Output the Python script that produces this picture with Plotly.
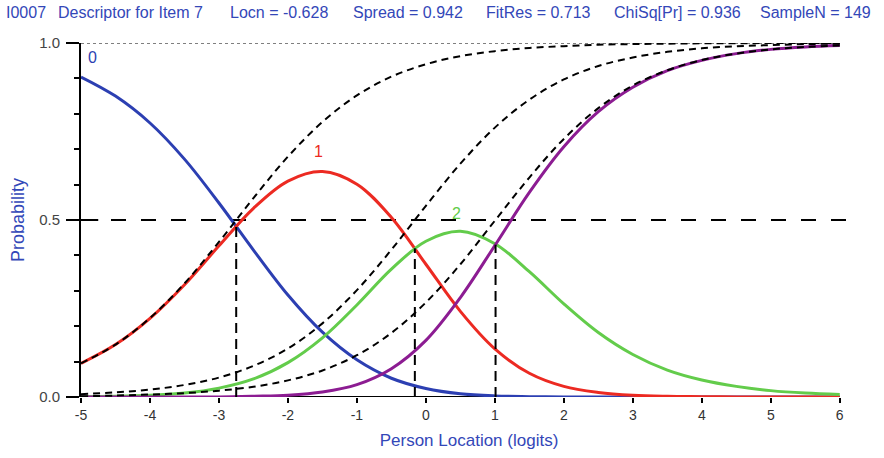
import plotly.graph_objects as go

# ---- data ----
theta = [-5, -4.5, -4, -3.5, -3, -2.5, -2, -1.5, -1, -0.5, 0, 0.5, 1, 1.5, 2, 2.5, 3, 3.5, 4, 4.5, 5, 5.5, 6]

cat0 = [0.904, 0.850, 0.774, 0.672, 0.548, 0.415, 0.288, 0.183, 0.105, 0.053, 0.024, 0.009, 0.003, 0.001, 0, 0, 0, 0, 0, 0, 0, 0, 0]
cat1 = [0.095, 0.148, 0.222, 0.317, 0.427, 0.533, 0.610, 0.637, 0.601, 0.507, 0.375, 0.242, 0.136, 0.067, 0.030, 0.013, 0.005, 0.002, 0.001, 0, 0, 0, 0]
cat2 = [0.001, 0.002, 0.005, 0.011, 0.025, 0.051, 0.097, 0.167, 0.260, 0.361, 0.440, 0.468, 0.433, 0.354, 0.263, 0.182, 0.120, 0.076, 0.048, 0.030, 0.018, 0.011, 0.007]
cat3 = [0, 0, 0, 0, 0, 0.002, 0.005, 0.014, 0.035, 0.080, 0.160, 0.281, 0.428, 0.578, 0.707, 0.806, 0.875, 0.922, 0.951, 0.970, 0.982, 0.989, 0.993]

thr1 = [0.095, 0.148, 0.223, 0.321, 0.438, 0.562, 0.679, 0.777, 0.852, 0.905, 0.940, 0.963, 0.977, 0.986, 0.991, 0.995, 0.997, 0.998, 0.999, 0.999, 1.0, 1.0, 1.0]
thr2 = [0.008, 0.013, 0.021, 0.034, 0.055, 0.088, 0.137, 0.208, 0.302, 0.416, 0.540, 0.659, 0.761, 0.840, 0.897, 0.935, 0.959, 0.975, 0.985, 0.991, 0.994, 0.997, 0.998]
thr3 = [0.002, 0.004, 0.007, 0.011, 0.018, 0.029, 0.047, 0.075, 0.118, 0.181, 0.267, 0.375, 0.498, 0.620, 0.729, 0.816, 0.880, 0.923, 0.952, 0.970, 0.982, 0.989, 0.993]

thresholds = [-2.75, -0.16, 1.01]
threshold_heights = [0.48, 0.42, 0.43]

category_labels = ["0", "1", "2", "3"]
label_x = [-4.83, -1.55, 0.45, 6.09]
label_y = [0.93, 0.665, 0.49, 1.012]

header_parts = ["I0007", "Descriptor for Item 7", "Locn = -0.628", "Spread = 0.942",
                "FitRes = 0.713", "ChiSq[Pr] = 0.936", "SampleN = 149"]
header_px = [4, 56, 228, 351, 484, 612, 758]

x_ticks = [-5, -4, -3, -2, -1, 0, 1, 2, 3, 4, 5, 6]
y_ticks = [0, 0.5, 1.0]
y_tick_text = ["0.0", "0.5", "1.0"]

# ---- styling ----
COLORS = ["#2c3fb2", "#ec2a22", "#63cc4b", "#8c1c92"]
TEXT_BLUE = "#3347b8"
FONT = "Liberation Sans Narrow, Arial Narrow, Liberation Sans, Arial, sans-serif"
FONT_N = "Liberation Sans, Arial, sans-serif"

W, H = 884, 458
L, R, T, B = 81, 27, 43, 61
PW = W - L - R
PH = H - T - B

fig = go.Figure()

for ys, col in zip([cat0, cat1, cat2, cat3], COLORS):
    fig.add_trace(go.Scatter(x=theta, y=ys, mode="lines",
                             line=dict(color=col, width=3, shape="spline", smoothing=1.0),
                             cliponaxis=False, showlegend=False, hoverinfo="skip"))

for ys in [thr1, thr2, thr3]:
    fig.add_trace(go.Scatter(x=theta, y=ys, mode="lines",
                             line=dict(color="black", width=2, dash="7px,5px", shape="spline", smoothing=1.0),
                             cliponaxis=False, showlegend=False, hoverinfo="skip"))

for tx, th in zip(thresholds, threshold_heights):
    fig.add_trace(go.Scatter(x=[tx, tx], y=[0, th], mode="lines",
                             line=dict(color="black", width=2, dash="10px,6px"),
                             cliponaxis=False, showlegend=False, hoverinfo="skip"))

# reference lines
fig.add_shape(type="line", xref="paper", yref="y", x0=0, x1=1, y0=0.5, y1=0.5,
              line=dict(color="black", width=2, dash="15px,15px"), layer="below")
fig.add_shape(type="line", xref="x", yref="y", x0=x_ticks[0], x1=x_ticks[-1], y0=1.0, y1=1.0,
              line=dict(color="black", width=1, dash="3px,3px"), layer="below")
# x axis line (ends at last tick)
fig.add_shape(type="line", xref="x", yref="y", x0=x_ticks[0], x1=x_ticks[-1], y0=0, y1=0,
              line=dict(color="black", width=2), layer="below")
# inner part of 0.5 tick
fig.add_shape(type="line", xref="x", yref="y", x0=x_ticks[0], x1=x_ticks[0] + 0.25, y0=0.5, y1=0.5,
              line=dict(color="black", width=2))

for txt, lx, ly, col in zip(category_labels, label_x, label_y, COLORS):
    fig.add_annotation(x=lx, y=ly, text=txt, showarrow=False, xref="x", yref="y",
                       font=dict(family=FONT_N, size=16, color=col),
                       xanchor="center", yanchor="bottom")

for txt, px in zip(header_parts, header_px):
    fig.add_annotation(x=(px - L) / PW, y=(H - B - 12) / PH, xref="paper", yref="paper",
                       text=txt, showarrow=False, xanchor="left", yanchor="middle",
                       font=dict(family=FONT, size=16, color=TEXT_BLUE))

fig.update_layout(
    width=W, height=H,
    margin=dict(l=L, r=R, t=T, b=B, pad=0),
    paper_bgcolor="white", plot_bgcolor="white",
    showlegend=False,
    xaxis=dict(range=[-5, 6.25], tickvals=x_ticks, ticktext=[str(v) for v in x_ticks],
               ticks="outside", ticklen=5, tickwidth=1.5, tickcolor="black",
               showline=False, showgrid=False, zeroline=False,
               tickfont=dict(family=FONT_N, size=14, color="#333333"),
               title=dict(text="Person Location (logits)", standoff=12,
                          font=dict(family=FONT_N, size=17, color=TEXT_BLUE))),
    yaxis=dict(range=[0, 1], tickvals=y_ticks, ticktext=y_tick_text,
               ticks="outside", ticklen=13, tickwidth=2, tickcolor="black",
               minor=dict(dtick=0.1, ticks="outside", ticklen=5, tickwidth=1.5, tickcolor="black", showgrid=False),
               showline=True, linecolor="black", linewidth=2,
               showgrid=False, zeroline=False,
               tickfont=dict(family=FONT_N, size=15, color="#444444"),
               ticklabelstandoff=3,
               title=dict(text="Probability", standoff=10,
                          font=dict(family=FONT_N, size=18, color=TEXT_BLUE))),
)

fig.write_html("out.html", config={"displayModeBar": False},
               post_script="document.body.style.margin='0';document.body.style.overflow='hidden';")
